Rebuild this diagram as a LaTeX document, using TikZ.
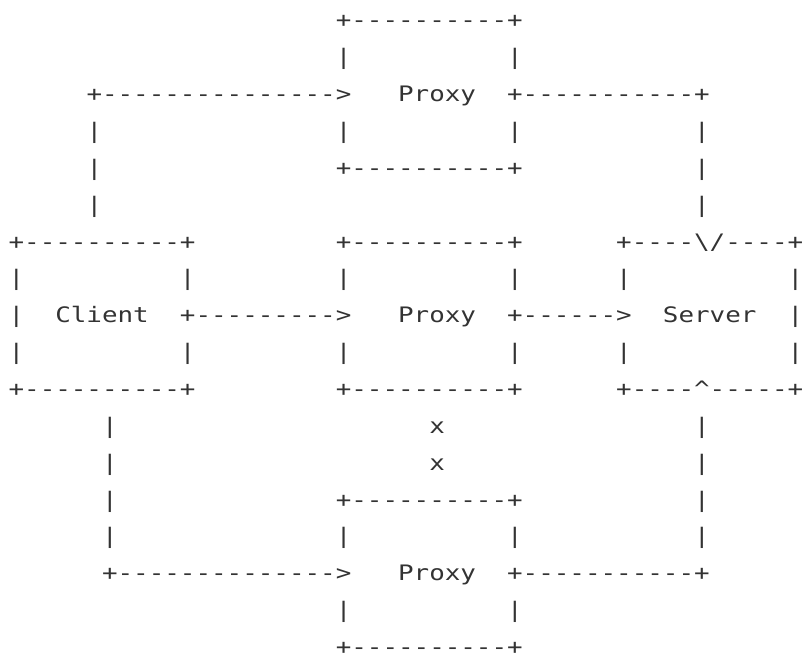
\documentclass[tikz,border=0pt]{standalone}
\usepackage{fontspec}
\setmonofont[FakeStretch=1.215]{DejaVu Sans Mono}
\definecolor{ink}{HTML}{333333}
\tikzset{asc/.style={anchor=base west, inner sep=0pt, outer sep=0pt, text=ink,
  font=\ttfamily\fontsize{21.3pt}{36.85pt}\selectfont}}
\newcommand\A[3]{\node[asc] (r#1c#2) at ({8.6+15.58*#2},{-28-36.85*#1}) {#3};}
\begin{document}
\begin{tikzpicture}[x=1pt,y=1pt]
\useasboundingbox (0,0) rectangle (803,-658);
% row 0-1: top proxy
\A{0}{21}{+----------+}
\A{1}{21}{|}\A{1}{32}{|}
\A{2}{5}{+--------------->}\A{2}{25}{Proxy}\A{2}{32}{+-----------+}
\A{3}{5}{|}\A{3}{21}{|}\A{3}{32}{|}\A{3}{44}{|}
\A{4}{5}{|}\A{4}{21}{+----------+}\A{4}{44}{|}
\A{5}{5}{|}\A{5}{44}{|}
% middle row
\A{6}{0}{+----------+}\A{6}{21}{+----------+}\A{6}{39}{+----\textbackslash/----+}
\A{7}{0}{|}\A{7}{11}{|}\A{7}{21}{|}\A{7}{32}{|}\A{7}{39}{|}\A{7}{50}{|}
\A{8}{0}{|}\A{8}{3}{Client}\A{8}{11}{+--------->}\A{8}{25}{Proxy}\A{8}{32}{+------>}\A{8}{42}{Server}\A{8}{50}{|}
\A{9}{0}{|}\A{9}{11}{|}\A{9}{21}{|}\A{9}{32}{|}\A{9}{39}{|}\A{9}{50}{|}
\A{10}{0}{+----------+}\A{10}{21}{+----------+}\A{10}{39}{+----\textasciicircum-----+}
% lower part
\A{11}{6}{|}\A{11}{27}{x}\A{11}{44}{|}
\A{12}{6}{|}\A{12}{27}{x}\A{12}{44}{|}
\A{13}{6}{|}\A{13}{21}{+----------+}\A{13}{44}{|}
\A{14}{6}{|}\A{14}{21}{|}\A{14}{32}{|}\A{14}{44}{|}
\A{15}{6}{+-------------->}\A{15}{25}{Proxy}\A{15}{32}{+-----------+}
\A{16}{21}{|}\A{16}{32}{|}
\A{17}{21}{+----------+}
\end{tikzpicture}
\end{document}
